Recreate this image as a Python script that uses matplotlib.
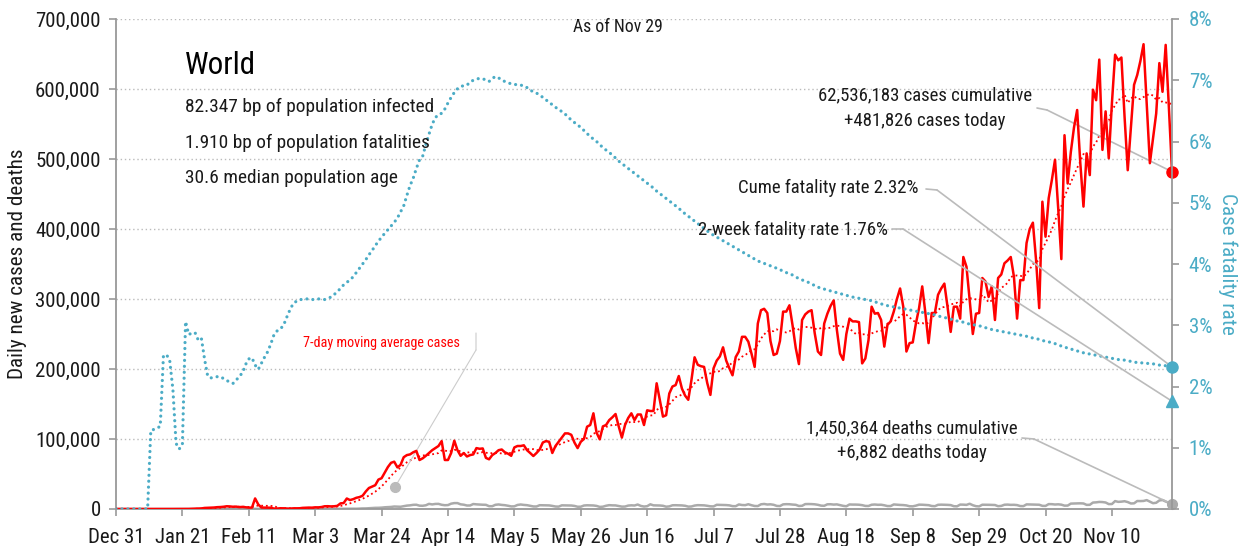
import numpy as np
import pandas as pd
import matplotlib
matplotlib.use('Agg')
import matplotlib.pyplot as plt
from matplotlib import font_manager
from matplotlib.font_manager import FontProperties
from matplotlib.textpath import TextPath

# daily new cases (thousands), Dec 31 2019 .. Nov 29 2020
cases_k = [
    0.027, 0, 0, 0, 0.017, 0, 0.015, 0, 0, 0,
    0, 0, 0, 0, 0, 0, 0.004, 0.004, 0.017, 0.136,
    0.02, 0.151, 0.14, 0.1, 0.3, 0.6, 0.7, 0.8, 1.5, 1.7,
    2.0, 2.1, 2.6, 2.8, 3.2, 3.9, 3.7, 3.2, 3.4, 2.7,
    3.0, 2.5, 2.0, 2.0, 15.1, 6.5, 2.1, 2.0, 1.9, 1.8,
    0.5, 0.6, 1.0, 1.0, 0.6, 0.5, 0.9, 0.9, 1.0, 1.6,
    1.8, 2.0, 1.9, 2.4, 2.3, 2.8, 3.9, 4.0, 3.7, 3.9,
    4.5, 8.0, 8.5, 15.0, 12.8, 14.0, 16.0, 17.0, 19.0, 25.0,
    30.0, 32.0, 34.0, 42.0, 44.0, 52.0, 60.0, 66.0, 67.6, 59.5,
    63.0, 74.0, 77.0, 78.0, 81.0, 83.0, 70.0, 72.4, 76.0, 80.0,
    84.0, 87.0, 90.0, 97.0, 70.0, 70.0, 80.0, 97.6, 84.0, 76.0,
    80.0, 75.0, 77.0, 78.0, 87.0, 86.0, 86.5, 73.0, 71.0, 77.0,
    80.0, 84.0, 85.0, 81.0, 79.0, 76.0, 88.0, 90.0, 90.0, 91.0,
    84.0, 80.0, 75.7, 80.0, 85.0, 95.0, 97.0, 96.0, 80.0, 90.0,
    96.0, 102.0, 108.0, 108.0, 106.0, 95.0, 87.0, 96.0, 100.0, 117.6,
    120.0, 136.7, 109.0, 99.5, 118.0, 120.0, 127.0, 131.0, 135.7, 118.0,
    102.0, 120.0, 130.0, 136.7, 127.0, 135.0, 135.0, 120.0, 141.0, 140.0,
    140.0, 179.6, 155.7, 132.0, 134.0, 165.0, 175.0, 177.0, 190.0, 172.0,
    162.0, 156.0, 184.0, 216.7, 206.0, 204.0, 203.0, 180.0, 163.0, 201.0,
    212.0, 218.0, 231.0, 212.0, 201.0, 191.0, 217.0, 225.0, 246.0, 246.0,
    239.0, 222.0, 203.0, 265.0, 284.0, 286.0, 280.0, 240.0, 220.0, 222.0,
    240.0, 282.0, 282.0, 291.0, 262.0, 230.0, 207.0, 270.0, 278.0, 282.0,
    284.0, 251.0, 225.0, 220.0, 265.0, 279.0, 290.0, 298.0, 256.0, 222.0,
    213.0, 250.0, 272.0, 268.0, 268.0, 267.0, 208.0, 215.0, 241.0, 289.0,
    279.0, 280.0, 270.0, 232.0, 263.0, 268.0, 282.0, 300.0, 315.0, 289.0,
    225.0, 237.0, 238.0, 265.0, 287.0, 318.0, 280.0, 237.0, 280.0, 280.0,
    306.0, 315.0, 322.0, 289.0, 253.0, 289.0, 289.0, 272.0, 360.0, 346.0,
    299.0, 250.0, 279.0, 280.0, 330.0, 325.0, 303.0, 318.0, 270.0, 330.0,
    335.0, 351.0, 355.0, 360.0, 332.0, 272.0, 327.0, 327.0, 380.0, 400.0,
    409.0, 356.0, 287.0, 439.0, 389.0, 444.0, 470.0, 499.0, 430.0, 357.0,
    534.0, 465.0, 510.0, 545.0, 570.0, 494.0, 432.0, 508.0, 477.0, 599.0,
    584.0, 642.0, 513.0, 568.0, 501.0, 580.0, 649.0, 641.0, 645.0, 560.0,
    484.0, 545.0, 606.0, 620.0, 640.0, 664.0, 580.0, 494.0, 530.0, 565.0,
    637.0, 596.0, 663.0, 575.0, 481.826,
]

# daily new deaths (thousands)
deaths_k = [
    0, 0, 0, 0, 0, 0, 0, 0, 0, 0,
    0, 0.001, 0, 0, 0, 0, 0, 0, 0.002, 0.001,
    0.002, 0.003, 0.003, 0.011, 0.008, 0.016, 0.015, 0.024, 0.026, 0.026,
    0.038, 0.043, 0.046, 0.045, 0.057, 0.064, 0.066, 0.073, 0.073, 0.086,
    0.089, 0.097, 0.108, 0.097, 0.254, 0.143, 0.143, 0.142, 0.106, 0.098,
    0.139, 0.115, 0.125, 0.004, 0.207, 0.011, 0.150, 0.071, 0.064, 0.039,
    0.046, 0.058, 0.064, 0.067, 0.073, 0.083, 0.103, 0.104, 0.099, 0.100,
    0.199, 0.270, 0.323, 0.352, 0.448, 0.412, 0.365, 0.601, 0.788, 0.822,
    1.097, 1.400, 1.665, 1.716, 1.959, 2.432, 2.700, 2.958, 3.524, 3.379,
    3.188, 4.064, 4.839, 5.226, 5.954, 6.090, 4.752, 4.614, 5.322, 7.342,
    6.526, 7.227, 7.322, 6.024, 5.410, 5.620, 7.628, 8.434, 8.421, 6.660,
    6.133, 4.976, 5.032, 7.108, 6.637, 6.346, 6.088, 5.970, 4.020, 3.999,
    5.992, 6.497, 5.838, 5.433, 4.655, 3.683, 3.822, 5.792, 6.429, 5.831,
    5.459, 4.587, 3.649, 3.595, 5.411, 5.306, 5.140, 5.124, 4.439, 3.546,
    3.390, 5.219, 5.176, 5.195, 4.974, 4.399, 3.216, 3.276, 4.971, 5.299,
    5.206, 5.034, 4.412, 2.996, 3.315, 4.641, 5.486, 5.193, 5.119, 4.318,
    3.396, 3.505, 4.875, 5.240, 4.977, 6.404, 4.396, 3.518, 4.000, 6.700,
    5.200, 5.100, 5.000, 4.600, 3.300, 3.700, 5.300, 5.400, 5.200, 5.100,
    4.600, 3.400, 3.600, 4.900, 5.500, 5.400, 5.200, 4.600, 3.800, 3.700,
    6.000, 5.900, 5.700, 5.600, 5.200, 4.100, 4.000, 6.500, 5.700, 5.500,
    6.800, 5.400, 4.300, 4.200, 6.700, 7.200, 6.400, 6.700, 6.000, 4.400,
    4.200, 6.600, 6.900, 6.800, 6.300, 6.000, 4.300, 4.600, 7.000, 7.100,
    7.000, 6.700, 6.000, 4.800, 4.600, 6.700, 6.800, 6.300, 6.600, 5.600,
    4.500, 3.900, 6.500, 6.300, 6.300, 6.100, 5.500, 4.400, 4.300, 6.100,
    6.400, 6.000, 6.100, 5.300, 4.200, 4.200, 6.500, 6.100, 5.800, 5.600,
    5.100, 3.900, 3.800, 4.800, 6.200, 6.100, 5.800, 5.500, 4.300, 4.000,
    6.000, 6.200, 6.100, 5.900, 5.600, 4.000, 3.800, 6.300, 6.200, 5.900,
    7.500, 5.400, 4.000, 3.700, 6.100, 6.100, 6.000, 5.900, 5.700, 4.000,
    4.400, 6.100, 6.300, 5.900, 6.000, 5.600, 4.200, 4.100, 6.600, 6.500,
    6.400, 6.200, 6.100, 4.500, 4.400, 7.000, 6.900, 6.400, 6.700, 6.200,
    4.800, 4.900, 7.700, 7.900, 8.000, 8.100, 7.900, 5.900, 6.000, 9.200,
    9.500, 10.100, 9.900, 9.300, 7.000, 7.100, 11.300, 10.200, 10.500, 11.100,
    9.900, 7.900, 8.100, 11.400, 11.300, 11.500, 12.700, 10.500, 8.300, 8.900,
    12.200, 12.800, 10.700, 8.900, 6.882,
]

# cumulative case fatality rate (%)
rate_pct = [
    0, 0, 0, 0, 0, 0, 0, 0, 0, 0,
    0, 1.28, 1.30, 1.32, 1.35, 2.50, 2.52, 2.42, 1.95, 1.07,
    0.98, 1.05, 3.06, 2.85, 2.87, 2.88, 2.76, 2.79, 2.45, 2.17,
    2.14, 2.15, 2.16, 2.16, 2.13, 2.10, 2.07, 2.05, 2.10, 2.17,
    2.22, 2.36, 2.45, 2.47, 2.35, 2.28, 2.38, 2.48, 2.57, 2.70,
    2.85, 2.91, 2.94, 3.00, 3.13, 3.25, 3.35, 3.39, 3.42, 3.42,
    3.43, 3.43, 3.42, 3.42, 3.43, 3.43, 3.42, 3.44, 3.46, 3.50,
    3.55, 3.60, 3.66, 3.70, 3.74, 3.79, 3.86, 3.93, 4.00, 4.07,
    4.15, 4.22, 4.30, 4.37, 4.44, 4.50, 4.56, 4.62, 4.68, 4.75,
    4.85, 4.95, 5.12, 5.28, 5.40, 5.56, 5.70, 5.76, 5.95, 6.12,
    6.28, 6.39, 6.44, 6.46, 6.53, 6.63, 6.72, 6.80, 6.86, 6.90,
    6.91, 6.92, 6.97, 7.00, 7.02, 7.03, 7.02, 7.01, 6.98, 7.03,
    7.06, 7.04, 7.00, 6.98, 6.96, 6.94, 6.93, 6.93, 6.92, 6.91,
    6.88, 6.84, 6.81, 6.79, 6.76, 6.72, 6.68, 6.64, 6.60, 6.56,
    6.52, 6.49, 6.45, 6.40, 6.35, 6.31, 6.27, 6.23, 6.18, 6.13,
    6.08, 6.04, 6.00, 5.95, 5.90, 5.86, 5.82, 5.78, 5.73, 5.68,
    5.64, 5.60, 5.56, 5.52, 5.48, 5.44, 5.40, 5.36, 5.32, 5.28,
    5.24, 5.19, 5.15, 5.11, 5.07, 5.03, 4.99, 4.95, 4.91, 4.86,
    4.82, 4.78, 4.74, 4.70, 4.66, 4.62, 4.58, 4.54, 4.50, 4.47,
    4.44, 4.41, 4.38, 4.35, 4.32, 4.29, 4.26, 4.23, 4.20, 4.17,
    4.14, 4.11, 4.08, 4.05, 4.03, 4.01, 3.99, 3.97, 3.95, 3.93,
    3.91, 3.88, 3.86, 3.84, 3.82, 3.79, 3.76, 3.74, 3.72, 3.70,
    3.67, 3.65, 3.62, 3.61, 3.59, 3.58, 3.56, 3.55, 3.53, 3.52,
    3.50, 3.49, 3.47, 3.46, 3.45, 3.44, 3.43, 3.42, 3.41, 3.40,
    3.38, 3.37, 3.35, 3.33, 3.32, 3.31, 3.30, 3.29, 3.28, 3.27,
    3.26, 3.25, 3.24, 3.23, 3.22, 3.21, 3.20, 3.19, 3.18, 3.17,
    3.15, 3.14, 3.13, 3.11, 3.10, 3.09, 3.07, 3.06, 3.05, 3.03,
    3.02, 3.01, 3.00, 2.99, 2.98, 2.96, 2.95, 2.93, 2.92, 2.91,
    2.90, 2.89, 2.88, 2.87, 2.86, 2.85, 2.84, 2.83, 2.82, 2.81,
    2.79, 2.78, 2.77, 2.75, 2.74, 2.73, 2.71, 2.70, 2.68, 2.66,
    2.64, 2.63, 2.61, 2.60, 2.58, 2.57, 2.55, 2.54, 2.53, 2.52,
    2.51, 2.50, 2.49, 2.48, 2.47, 2.46, 2.45, 2.44, 2.44, 2.43,
    2.42, 2.41, 2.40, 2.39, 2.39, 2.38, 2.38, 2.37, 2.37, 2.36,
    2.35, 2.34, 2.34, 2.33, 2.32,
]
two_week_rate = 1.76

stats = ['82.347 bp of population infected',
         '1.910 bp of population fatalities',
         '30.6 median population age']
cases_note = ['62,536,183 cases cumulative', '+481,826 cases today']
deaths_note = ['1,450,364 deaths cumulative', '+6,882 deaths today']

cases = np.array(cases_k) * 1000
deaths = np.array(deaths_k) * 1000
rate = np.array(rate_pct)
days = np.arange(len(cases))
ma7 = pd.Series(cases).rolling(7, min_periods=1).mean()

start = pd.Timestamp('2019-12-31')
tick_dates = pd.date_range(start, '2020-11-29', freq='21D')
tick_pos = [(d - start).days for d in tick_dates]
tick_labels = [f'{d:%b} {d.day}' for d in tick_dates]


# pick the narrowest plain sans face that is installed (the original is condensed)
def ink_width(fname, s, size=100):
    tp = TextPath((0, 0), s, size=size, prop=FontProperties(fname=fname))
    return tp.get_extents().width


BASES = ['Liberation Sans', 'Roboto', 'Noto Sans', 'Open Sans', 'Lato',
         'Inter', 'DejaVu Sans']
SUFFIX = ['', ' Narrow', ' Condensed', ' SemiCondensed', ' Semi Condensed',
          ' ExtraCondensed', ' Extra Condensed']
OK_NAMES = {b + s for b in BASES for s in SUFFIX}

best, best_w = None, None
for f in font_manager.fontManager.ttflist:
    if f.name not in OK_NAMES or f.style != 'normal':
        continue
    wt = f.weight if isinstance(f.weight, int) else 400
    if wt != 400:
        continue
    try:
        w = ink_width(f.fname, stats[0])
    except Exception:
        continue
    if best_w is None or w < best_w:
        best, best_w = f.fname, w
FONT_FILE = best or font_manager.findfont('DejaVu Sans')


def fp(text, px_width):
    # size so that the ink width of `text` matches the reference width in px
    w = ink_width(FONT_FILE, text) / 100.0
    return FontProperties(fname=FONT_FILE, size=px_width * 0.72 / w)


RED = '#ff0000'
CYAN = '#4bacc6'
GRAY = '#aaaaaa'
AXC = '#999999'
LEAD = '#bbbbbb'
INK = '#1a1a1a'

W, H = 1240, 546
fig = plt.figure(figsize=(W / 100, H / 100), dpi=100)
ax = fig.add_axes([116 / W, 37 / H, (1172 - 116) / W, (509 - 19) / H])
ax2 = ax.twinx()


def fpos(x, y):
    return (x / W, 1 - y / H)


ax.plot(days, deaths, color=GRAY, lw=1.8, zorder=2)
ax.plot(days, ma7, color=RED, lw=1.3, ls=(0, (1, 1.6)), zorder=3)
ax.plot(days, cases, color=RED, lw=1.8, zorder=4)
ax.plot(days[-1], cases[-1], 'o', color=RED, ms=8, clip_on=False, zorder=6)
ax.plot(days[-1], deaths[-1], 'o', color=GRAY, ms=7, clip_on=False, zorder=6)

ax2.plot(days, rate, color=CYAN, lw=2.3, ls=(0, (0.01, 1.85)),
         dash_capstyle='round')
ax2.plot(days[-1], rate[-1], 'o', color=CYAN, ms=8, clip_on=False, zorder=6)
ax2.plot(days[-1], two_week_rate, '^', color=CYAN, ms=9, clip_on=False, zorder=6)

ax.set_xlim(0, days[-1])
ax.set_ylim(0, 700000)
ax2.set_ylim(0, 8)
ax.set_yticks(np.arange(0, 700001, 100000))
ax.set_yticklabels([f'{v:,}' for v in range(0, 700001, 100000)])
ax2.set_yticks(range(0, 9))
ax2.set_yticklabels([f'{v}%' for v in range(0, 9)])
ax.set_xticks(tick_pos)
ax.set_xticklabels(tick_labels)

tick_fp = fp('700,000', 64)
for lbl in ax.get_yticklabels() + ax.get_xticklabels() + ax2.get_yticklabels():
    lbl.set_fontproperties(tick_fp)

ax.yaxis.grid(True, ls=(0, (1, 2)), color='#bbbbbb', lw=1)
ax.set_axisbelow(True)
for a in (ax, ax2):
    for s in a.spines.values():
        s.set_color(AXC)
        s.set_linewidth(1.3)
    a.spines['top'].set_visible(False)
ax.spines['right'].set_visible(False)
ax2.spines['left'].set_visible(False)
ax2.spines['bottom'].set_visible(False)
ax.tick_params(axis='both', colors=AXC, length=5, width=1.2, pad=6,
               labelcolor=INK)
ax.tick_params(axis='x', pad=9)
ax2.tick_params(axis='y', colors=AXC, length=5, width=1.2, pad=7,
                labelcolor=CYAN)

fig.text(*fpos(18, 264), 'Daily new cases and deaths', rotation=90,
         ha='center', va='center', color=INK,
         fontproperties=fp('Daily new cases and deaths', 228))
fig.text(*fpos(1228, 264), 'Case fatality rate', rotation=270,
         ha='center', va='center', color=CYAN,
         fontproperties=fp('Case fatality rate', 140))
fig.text(*fpos(618, 27), 'As of Nov 29', ha='center', va='center',
         color=INK, fontproperties=fp('As of Nov 29', 88))

fig.text(*fpos(185, 66), 'World', ha='left', va='center', color='#000000',
         fontproperties=fp('World', 68))
stat_fp = fp(stats[0], 247)
for txt, y in zip(stats, [107, 143, 178]):
    fig.text(*fpos(185, y), txt, ha='left', va='center', color=INK,
             fontproperties=stat_fp)

note_fp = fp(cases_note[0], 213)
for txt, y in zip(cases_note, [95, 121]):
    fig.text(*fpos(925, y), txt, ha='center', va='center', color=INK,
             fontproperties=note_fp)
for txt, y in zip(deaths_note, [428, 453]):
    fig.text(*fpos(912, y), txt, ha='center', va='center', color=INK,
             fontproperties=note_fp)
fig.text(*fpos(919, 188), f'Cume fatality rate {rate[-1]:.2f}%', ha='right',
         va='center', color=INK, fontproperties=note_fp)
fig.text(*fpos(888, 230), f'2-week fatality rate {two_week_rate:.2f}%',
         ha='right', va='center', color=INK, fontproperties=note_fp)
fig.text(*fpos(460, 343), '7-day moving average cases', ha='right',
         va='center', color=RED,
         fontproperties=fp('7-day moving average cases', 156))

lp = dict(arrowstyle='-', color=LEAD, lw=1.2, shrinkA=0, shrinkB=0)


def leader(a, p0, p1, xy, **kw):
    props = dict(lp, **kw)
    a.annotate('', xy=fpos(*p1), xycoords='figure fraction',
               xytext=fpos(*p0), textcoords='figure fraction',
               arrowprops=props, annotation_clip=False)
    a.annotate('', xy=xy, xycoords='data', xytext=fpos(*p1),
               textcoords='figure fraction', arrowprops=props,
               annotation_clip=False)


leader(ax, (1037, 108), (1047, 110), (days[-1], cases[-1]))
leader(ax2, (926, 189), (937, 190), (days[-1], rate[-1]))
leader(ax2, (892, 229), (903, 229), (days[-1], two_week_rate))
leader(ax, (1022, 438), (1034, 439), (days[-1], deaths[-1]))

# moving-average label pointer
thin = dict(lp, lw=0.8, color='#cccccc')
ax.annotate('', xy=fpos(476, 350), xycoords='figure fraction',
            xytext=fpos(476, 333), textcoords='figure fraction',
            arrowprops=thin, annotation_clip=False)
ax.annotate('', xy=fpos(395, 487), xycoords='figure fraction',
            xytext=fpos(476, 350), textcoords='figure fraction',
            arrowprops=thin, annotation_clip=False)
fig.add_artist(plt.Line2D([395 / W], [1 - 487 / H], marker='o', ms=7,
                          color='#bbbbbb', transform=fig.transFigure))

fig.savefig('out.png', dpi=100)
